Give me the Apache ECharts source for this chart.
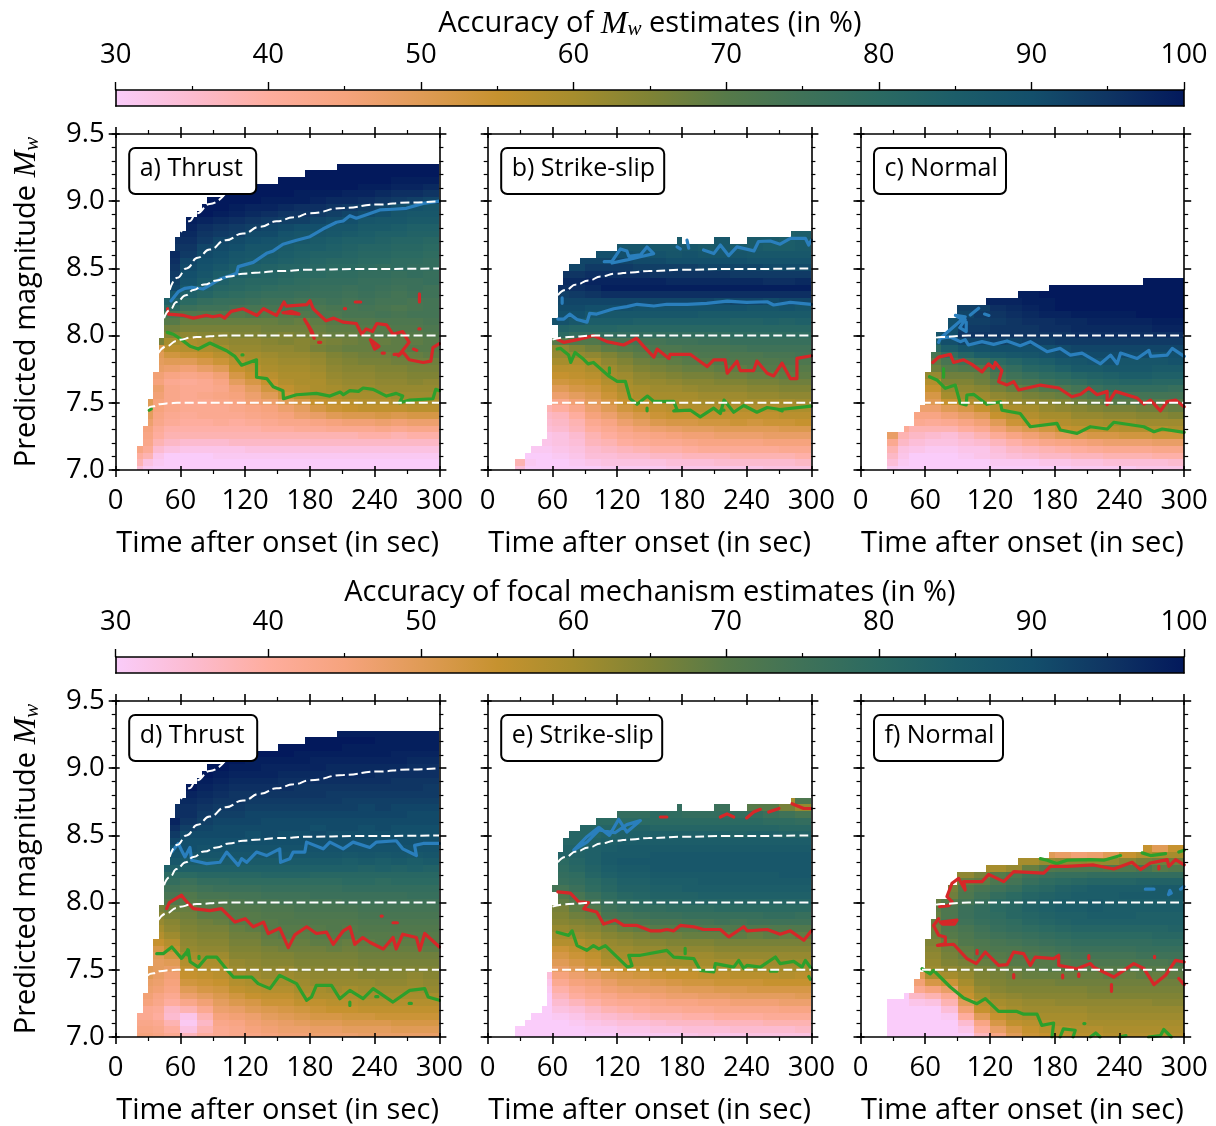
<!DOCTYPE html>
<html><head><meta charset="utf-8">
<style>html,body{margin:0;padding:0;background:#fff}#c{width:1216px;height:1126px}</style>
<script src="https://cdn.jsdelivr.net/npm/echarts@6/dist/echarts.min.js"></script>
</head><body><div id="c"></div>
<script>
// ---- shared bins and labels
const timeEdges=[20,25,35,45,60,75,90,105,120,135,150,165,180,195,210,225,240,255,270,285,300];
const rowBase=6.98, rowStep=0.05;
const panelLabels=['a) Thrust','b) Strike-slip','c) Normal','d) Thrust','e) Strike-slip','f) Normal'];
const xTitle='Time after onset (in sec)';
const yTitle='Predicted magnitude {i|M}{s|w}';
const barTitles=['Accuracy of {i|M}{s|w} estimates (in %)','Accuracy of focal mechanism estimates (in %)'];
const accuracyStops=[[30,'#FACCFA'],[35,'#FCBBD0'],[40,'#FEAD9E'],[45,'#F6A37D'],[50,'#E09B56'],[55,'#C6922F'],[60,'#A68D2D'],[65,'#7F8335'],[70,'#567A49'],[75,'#3F7258'],[80,'#2B6A62'],[85,'#1C5D69'],[90,'#134F6B'],[95,'#0F3563'],[100,'#03195C']];

// ---- first time with data in each row, top row first (same order as the tables below)
const rowStartThrust=[205,175,150,130,100,85,80,75,65,65,60,55,55,50,50,50,50,50,50,50,45,45,45,45,45,45,40,40,40,40,40,35,35,35,35,30,30,30,30,25,25,25,20,20,20,20];
const rowStartStrike=[281,175,120,100,86,75,70,70,65,65,65,65,65,60,65,65,60,60,60,60,60,60,60,60,60,60,55,55,55,55,55,50,40,35,25,25];
const rowStartNormal=[262,175,146,116,89,89,81,81,70,70,70,65,65,65,60,60,60,60,60,55,50,50,40,25,25,25,25,25,25];

// ---- accuracy tables: rows top to bottom (lowest row centred on Mw 7.005), each row aligned to the last time bin; 0 = no data
const gridA=[
[100,100,100,100,100,100],
[100,100,100,100,100,100,100,100],
[100,100,100,100,100,100,100,99,99,99],
[100,100,100,100,100,100,100,99,99,98,98,97],
[100,100,100,100,100,99,99,99,98,98,97,96,96,95],
[100,100,100,100,99,99,99,98,97,97,96,95,94,93,92],
[100,100,99,98,98,97,96,96,95,94,93,92,90,89,88],
[100,100,99,98,97,96,95,95,94,93,92,91,90,88,87,87],
[99,98,97,96,95,94,93,93,92,91,90,88,87,87,86,86],
[98,96,95,94,93,92,91,90,90,88,88,86,86,85,84,84],
[97,95,94,93,91,91,89,88,88,87,86,85,84,84,83,83],
[96,94,92,91,90,89,88,87,86,85,84,84,83,82,82,81],
[95,92,91,90,88,88,86,85,85,84,83,82,82,81,81,80],
[97,94,91,90,88,87,86,85,84,83,83,82,81,81,80,80,79],
[96,92,90,89,87,86,85,84,83,82,81,81,80,80,79,79,78],
[95,91,89,87,85,84,83,82,82,81,80,80,79,78,79,78,78],
[94,90,88,85,84,83,82,81,80,80,79,79,78,78,77,78,77],
[93,89,86,84,82,81,81,80,79,78,78,78,77,77,76,76,77],
[92,87,84,82,81,80,79,78,78,77,77,76,77,76,75,76,75],
[88,84,82,80,79,78,77,77,76,76,76,75,76,75,74,75,75],
[84,80,78,77,77,76,75,75,74,74,75,74,75,74,74,73,74],
[80,76,75,75,74,73,73,73,73,72,73,73,74,73,72,73,74],
[73,71,71,71,70,71,70,70,71,72,72,73,73,74,73,74,74],
[70,68,68,68,68,68,68,69,68,69,70,71,71,72,72,72,73],
[67,66,66,66,66,66,67,67,67,68,69,69,70,70,71,71,72],
[64,63,64,64,65,65,66,65,66,67,68,68,69,70,70,70,71],
[66,60,59,60,62,63,63,64,65,64,65,66,67,68,68,69,69,70],
[52,57,58,59,60,62,62,63,63,64,66,67,68,68,69,69,70,70],
[50,53,54,55,57,59,60,61,62,62,63,65,66,67,67,68,68,69],
[49,50,50,52,54,57,59,60,61,61,62,64,65,66,66,67,67,67],
[48,47,46,48,50,55,57,59,60,60,61,63,64,64,65,65,66,66],
[46,44,43,44,46,52,55,57,59,59,60,62,63,63,64,64,65,65],
[45,42,41,42,44,49,52,55,58,59,59,61,62,62,63,63,64,63],
[47,43,42,42,43,46,49,53,56,58,59,60,61,61,62,62,62,62],
[46,43,42,43,44,45,47,50,54,57,59,59,60,60,60,61,61,61],
[50,45,43,42,42,43,44,46,47,50,52,55,56,57,58,58,59,59,59],
[50,45,43,42,42,42,43,44,45,47,49,52,54,55,56,56,56,57,57],
[49,44,42,41,42,42,42,43,44,45,47,48,50,51,51,52,51,52,52],
[47,43,41,40,40,41,40,41,42,43,43,44,45,46,46,47,46,47,47],
[45,41,39,39,39,39,39,39,40,40,41,41,42,42,42,43,42,43,43],
[44,40,38,38,38,38,38,38,38,38,38,38,38,38,39,39,38,39,39],
[52,43,38,36,35,35,35,36,36,36,36,36,36,36,36,36,36,36,36,36],
[44,41,35,33,32,32,32,32,33,33,33,33,33,33,33,33,33,33,33,33],
[40,38,32,30,30,30,31,31,31,31,31,31,31,31,31,31,31,31,31,31],
[38,33,31,30,30,30,30,30,30,30,30,30,30,30,30,30,30,30,30,30],
[34,31,30,30,30,30,30,30,30,30,30,30,30,30,30,30,30,30,30,30]];

const gridB=[
[84,85],
[86,0,0,87,0,86,86,85,86],
[88,88,87,87,87,86,87,86,86,85,85,86],
[90,90,89,89,88,89,88,88,88,87,87,87,87],
[92,92,92,91,91,90,90,90,90,90,89,89,89,89],
[92,94,94,94,93,93,93,93,92,92,92,92,91,91,91],
[95,96,96,96,96,95,95,95,95,95,94,94,94,94,94],
[97,98,98,98,98,98,97,97,97,97,97,97,96,96,97],
[96,97,99,99,99,99,99,99,99,99,99,99,99,99,99],
[93,94,95,96,96,96,96,96,96,96,96,96,96,96,96,96],
[92,92,92,92,92,92,92,92,92,92,91,92,92,91,92,92],
[91,91,90,90,90,89,89,89,89,89,89,89,88,88,89,88],
[90,90,88,87,87,87,87,87,87,86,86,86,86,86,86,86],
[89,87,85,85,85,84,84,84,84,84,84,83,83,84,83,84],
[83,82,82,82,81,81,81,81,81,81,81,81,81,81,81,81],
[80,78,78,78,78,78,78,78,78,78,78,79,79,79,79,79],
[70,71,71,73,73,74,74,75,75,76,76,77,77,77,77,77],
[63,65,67,69,70,71,72,72,73,73,73,74,75,75,75,75],
[62,62,63,65,67,69,70,70,71,72,72,72,72,73,73,74],
[60,59,60,63,65,67,68,69,70,70,71,71,71,71,72,72],
[57,57,59,61,63,65,66,67,68,68,69,69,70,70,70,70],
[55,56,57,60,61,63,64,65,66,66,67,67,68,68,69,69],
[53,54,55,58,60,62,62,63,64,64,65,65,66,66,67,67],
[50,52,53,56,59,60,61,61,62,63,63,63,64,64,65,65],
[47,49,51,54,57,59,60,60,60,61,61,61,62,62,63,63],
[43,46,49,52,55,57,58,59,59,60,60,60,60,60,60,61],
[38,40,43,47,50,53,55,56,57,58,58,58,58,58,58,59,59],
[36,37,40,45,47,50,52,54,55,55,56,56,56,56,56,57,57],
[35,36,38,42,44,47,49,51,52,52,53,53,54,53,54,54,55],
[34,35,37,40,42,44,46,47,48,49,49,50,50,50,50,51,51],
[32,33,35,38,40,42,43,44,45,46,46,47,47,47,48,48,48],
[32,33,34,37,38,40,41,42,42,43,44,44,44,44,45,45,45],
[31,31,32,33,35,36,37,38,39,39,40,41,41,41,41,41,42,42],
[30,30,31,32,34,34,35,35,36,36,37,37,37,38,38,38,38,39],
[38,31,30,30,31,32,33,33,33,33,34,34,34,35,35,35,35,35,36],
[34,30,30,30,30,30,31,31,31,31,32,32,32,32,32,32,33,33,33]];

const gridC=[
[100,100,100],
[100,100,100,100,100,100,100,100,100],
[99,100,100,100,100,100,100,100,100,100],
[98,98,99,99,100,100,100,100,100,100,100,100],
[93,93,96,97,98,99,100,100,100,100,100,100,100,100],
[92,92,94,95,96,97,98,98,99,99,99,99,100,100,100],
[90,93,93,94,95,96,96,97,97,98,98,98,98,99,99],
[90,94,94,95,95,95,96,96,97,97,97,97,97,98,98],
[88,90,95,95,95,95,95,95,95,96,96,96,96,96,96,96],
[85,90,92,92,93,92,93,93,94,94,94,94,94,94,94,94],
[80,85,88,89,90,90,90,90,91,92,92,92,92,92,92,92],
[73,78,82,85,86,87,88,89,90,90,91,91,91,91,90,90],
[69,73,75,77,80,82,84,85,87,88,89,90,88,88,88,89],
[67,70,71,71,76,78,81,82,84,86,86,87,87,87,86,86],
[62,67,67,68,72,75,77,79,80,82,83,84,85,85,84,84],
[58,65,65,67,69,72,73,75,77,78,80,81,82,82,81,81],
[55,62,63,64,66,68,69,71,72,74,76,78,78,78,78,77],
[52,60,61,61,63,64,66,67,68,70,72,73,74,74,74,74],
[48,50,55,58,60,60,62,63,64,65,67,68,70,70,71,70,70],
[47,47,50,52,55,58,59,60,62,63,64,65,66,66,67,67,68],
[44,44,46,48,50,55,57,58,60,60,62,62,63,63,64,64,65],
[42,41,42,44,46,50,54,55,57,58,59,59,60,60,61,61,61],
[41,38,38,38,40,42,46,49,51,53,55,56,56,57,58,58,58,59],
[48,38,36,35,34,36,38,41,44,46,48,50,51,52,52,53,53,54,54],
[42,36,34,33,33,34,35,37,39,41,43,44,45,46,47,47,47,48,48],
[38,33,32,31,31,32,32,34,36,37,38,39,40,41,42,42,42,43,43],
[36,32,30,30,30,31,32,33,34,35,36,36,37,37,38,38,38,39,39],
[34,31,30,30,30,30,30,31,31,31,32,32,33,33,34,34,34,34,35],
[31,30,30,30,30,30,30,30,30,30,30,30,31,31,31,31,32,32,32]];

const gridD=[
[99,99,99,99,99,99],
[100,100,100,100,99,99,99,99],
[100,100,100,100,99,99,99,99,99,99],
[100,100,100,99,99,99,99,99,99,98,98,98],
[100,100,99,99,99,99,98,98,98,98,98,98,97,97],
[100,100,99,99,98,98,98,98,97,97,97,97,97,96,96],
[100,99,98,98,98,97,97,97,97,97,97,96,96,96,96],
[100,99,98,97,97,97,96,96,96,96,96,96,96,95,95,95],
[100,98,97,96,96,96,96,95,95,95,95,95,95,95,95,94],
[98,97,96,95,95,95,95,95,95,94,94,94,94,94,94,94],
[97,96,95,95,94,94,94,94,94,94,93,93,93,93,93,93],
[96,95,94,94,93,93,93,93,93,93,93,92,93,92,92,92],
[96,94,93,93,92,92,92,92,92,92,92,92,92,92,91,91],
[98,95,93,92,92,92,91,91,91,91,91,91,91,91,91,91,91],
[96,93,92,91,91,91,91,91,91,90,91,91,90,91,90,90,90],
[94,91,91,91,91,90,91,90,90,91,90,90,90,90,90,90,90],
[92,90,90,90,90,90,90,90,90,90,90,90,90,90,90,90,90],
[90,90,89,89,89,89,89,89,89,89,89,89,89,89,89,89,89],
[89,88,88,88,88,88,88,88,88,88,88,87,88,87,88,87,88],
[87,86,86,86,86,86,86,86,86,86,86,85,86,85,86,85,86],
[84,84,84,84,84,84,84,84,84,84,84,84,83,84,83,84,83],
[80,80,81,81,81,81,82,82,82,81,81,81,81,81,81,81,81],
[78,76,78,78,79,79,79,79,79,79,79,80,80,79,80,80,80],
[75,74,75,76,76,76,77,77,77,77,77,78,78,78,78,78,78],
[73,71,73,73,74,74,75,75,75,76,76,76,76,76,76,77,77],
[71,70,71,71,72,73,73,74,74,74,74,75,75,75,75,75,75],
[66,68,68,70,70,71,71,72,72,73,73,73,73,74,74,74,74,74],
[64,66,67,69,69,70,70,71,71,72,72,72,72,73,73,73,73,73],
[62,64,66,67,68,70,70,70,71,71,71,71,71,72,72,72,72,72],
[60,63,65,66,66,68,69,70,70,70,70,71,70,71,71,71,71,71],
[58,61,64,65,65,67,67,69,70,69,70,70,70,70,70,70,70,70],
[55,58,63,64,64,66,66,68,68,68,69,69,68,69,70,69,69,70],
[52,56,62,63,63,65,65,66,67,67,67,68,67,68,68,68,68,69],
[50,53,60,61,61,64,64,65,65,66,66,66,66,67,67,67,67,67],
[49,50,58,59,59,62,63,64,64,65,65,65,65,66,66,66,66,66],
[50,49,48,56,58,58,61,62,63,62,64,64,64,64,65,65,65,65,65],
[50,48,46,55,56,57,60,61,62,61,62,63,63,63,64,64,64,63,64],
[48,47,45,53,54,55,58,59,60,60,61,62,62,62,62,63,63,62,63],
[47,46,44,50,52,53,56,57,58,58,60,60,61,60,61,61,61,61,62],
[46,44,42,47,49,51,53,55,56,56,58,59,59,59,60,60,60,60,60],
[45,43,40,43,46,49,51,52,54,54,56,56,57,57,58,58,58,58,58],
[43,42,41,36,38,42,47,48,50,51,52,53,54,55,55,56,56,56,56,56],
[42,42,40,35,32,38,45,46,47,49,50,51,52,52,53,53,54,54,54,54],
[43,43,42,38,31,36,43,44,46,47,48,49,50,50,51,51,51,52,52,52],
[44,44,43,40,33,38,42,43,45,46,47,47,48,48,49,49,49,50,50,50],
[45,45,44,42,37,40,42,43,44,45,46,46,47,47,47,48,48,48,48,48]];

const gridE=[
[60,72],
[78,0,0,76,0,70,70,66,62],
[78,78,80,79,78,78,78,78,78,76,75,73],
[80,80,80,80,80,80,80,80,80,80,79,79,78],
[82,82,82,83,82,82,82,82,82,82,82,82,81,81],
[82,82,83,84,84,84,84,84,84,84,83,84,84,83,83],
[82,83,84,85,85,85,85,85,85,85,85,85,85,85,85],
[83,84,85,86,86,86,86,86,86,86,86,86,86,86,86],
[83,84,86,86,86,87,87,87,87,87,87,87,87,87,87],
[80,82,84,86,87,87,87,87,87,87,87,87,87,87,87,87],
[79,81,83,85,86,86,87,87,87,87,87,87,87,87,87,87],
[78,79,82,84,85,85,86,86,86,86,86,86,86,86,87,87],
[77,78,80,82,84,84,85,85,85,86,86,86,86,86,86,86],
[74,76,79,81,83,83,84,84,85,85,85,85,85,85,85,85],
[71,73,76,79,81,82,83,83,83,84,84,84,84,84,84,84],
[69,71,74,77,79,80,81,81,82,82,82,82,82,82,82,82],
[66,69,71,75,77,78,78,79,79,79,80,80,80,80,80,80],
[65,67,68,73,74,75,76,76,77,77,77,77,77,78,78,77],
[64,65,66,70,72,72,73,73,74,74,75,74,75,75,75,75],
[62,63,64,66,68,69,70,70,70,71,71,71,71,71,71,71],
[60,61,62,64,65,66,67,67,68,68,68,69,68,69,68,69],
[58,58,60,62,63,64,64,65,65,65,66,66,66,66,66,66],
[54,56,58,61,61,62,62,63,63,63,64,64,64,64,64,64],
[52,54,56,60,60,60,61,61,61,61,62,62,62,62,62,62],
[50,52,54,58,58,59,59,60,60,60,60,60,60,61,61,61],
[48,50,52,54,55,56,57,57,58,58,59,59,60,60,60,60],
[34,45,47,49,51,52,53,54,55,55,56,56,57,57,57,58,57],
[32,42,45,46,48,50,50,51,52,53,53,54,54,54,55,55,55],
[31,39,42,44,46,47,48,48,49,50,50,51,51,52,52,52,52],
[30,37,40,42,43,45,45,46,47,47,48,48,49,49,49,49,50],
[30,35,37,39,41,42,42,43,44,44,45,45,46,46,46,47,47],
[30,33,34,36,38,39,40,41,41,42,42,43,43,43,43,44,44],
[30,30,31,32,34,35,36,37,38,38,39,39,40,40,40,41,41,41],
[30,30,30,31,32,33,34,34,35,36,36,36,37,37,37,38,38,38],
[30,30,30,30,30,31,31,32,32,33,33,34,34,34,35,35,35,35,36],
[30,30,30,30,30,30,30,31,31,31,31,32,33,32,32,33,33,33,33]];

const gridF=[
[55,50,55],
[50,48,46,47,50,55,58,60,60],
[60,62,63,63,62,62,64,66,67,67],
[60,62,68,71,72,72,72,71,71,73,70,71],
[63,66,70,72,75,76,77,77,78,78,78,78,78,78],
[64,68,69,72,74,77,79,80,81,82,82,82,83,83,83],
[66,71,73,75,77,80,81,83,84,85,85,85,85,86,86],
[67,72,75,78,80,82,83,84,85,85,85,86,86,86,86],
[68,70,74,77,80,81,83,84,85,85,86,85,85,85,85,85],
[69,72,76,78,80,81,83,84,85,85,86,85,85,85,85,85],
[68,72,76,78,79,81,82,83,84,84,85,85,85,84,84,84],
[68,73,75,77,78,79,81,82,83,84,84,84,84,84,84,84],
[67,71,73,75,77,78,79,80,81,82,82,82,82,82,82,83],
[67,70,72,74,75,76,77,78,79,80,80,80,80,80,81,81],
[65,68,71,72,73,74,75,76,77,78,78,78,78,78,79,79],
[64,67,69,71,72,72,73,74,75,76,76,76,76,77,77,77],
[63,66,68,70,70,71,71,72,73,74,74,74,74,75,75,75],
[62,65,66,68,69,70,70,70,71,72,72,72,72,72,72,73],
[58,61,63,64,66,67,68,69,70,70,70,70,70,70,70,70,70],
[50,59,60,62,65,66,67,68,68,68,68,68,69,68,69,68,69],
[46,52,54,60,64,65,66,66,66,67,67,67,67,67,67,67,67],
[42,45,48,57,62,64,65,65,65,65,65,66,66,66,66,66,66],
[30,36,38,42,55,60,62,63,64,64,64,64,65,65,65,65,65,65],
[30,30,32,33,38,50,57,60,61,62,62,63,63,63,63,63,63,64,64],
[30,30,30,30,34,46,55,58,60,61,61,61,61,62,62,62,62,62,62],
[30,30,30,30,31,40,50,55,58,59,60,60,60,61,61,61,61,61,61],
[30,30,30,30,30,35,44,52,56,57,58,59,59,60,60,60,60,60,60],
[30,30,30,30,30,32,40,48,52,55,57,57,58,58,59,59,59,59,59],
[30,30,30,30,30,30,37,44,50,54,55,56,57,57,58,58,58,58,58]];

// ---- dashed reference curves [t, Mw]
const curve95=[[60.5,8.77],[68,8.85],[75,8.91],[87.3,8.98],[101,9.05]];
const curve90=[[50,8.34],[57,8.43],[65.7,8.5],[76,8.58],[87,8.64],[102,8.71],[118,8.76],[134,8.81],[149,8.85],[165,8.88],[180,8.91],[211,8.95],[242,8.975],[272,8.99],[300,9.0]];
const curve85=[[44.8,8.13],[50,8.19],[56.5,8.25],[65,8.3],[72,8.34],[82,8.38],[93.5,8.41],[105,8.44],[118,8.46],[133,8.47],[149,8.48],[180,8.49],[220,8.495],[300,8.5]];
const curve80=[[39.5,7.87],[47,7.92],[56.5,7.96],[60,7.97],[70,7.985],[75,7.99],[100,8.0],[300,8.0]];
const curve75=[[28.7,7.455],[35,7.475],[41,7.49],[50,7.497],[57,7.5],[300,7.5]];

// ---- contours, each a list of polylines [t, Mw]
const blueA=[[[51.2,8.257],[58,8.327],[64.2,8.352],[70.4,8.359],[81.2,8.347],[87.3,8.376],[96.6,8.421],[105.9,8.446],[112,8.463],[113.6,8.513],[127.5,8.545],[139.8,8.612],[146,8.63],[155,8.68],[167.6,8.71],[180,8.736],[192,8.793],[204.6,8.843],[210.8,8.853],[217,8.892],[223,8.873],[232.4,8.9],[244.8,8.935],[257,8.94],[269.4,8.947],[285,8.984],[300,9.0]]];
const redA=[[[48,8.2],[49,8.16],[50,8.15],[63,8.15],[72,8.13],[84,8.15],[90,8.14],[97,8.15],[101,8.13],[107,8.18],[118,8.2],[131,8.15],[137,8.2],[149,8.15],[156,8.25],[158,8.22],[177,8.23],[180,8.26],[183,8.2],[195,8.11],[202,8.13],[211,8.1],[223,8.09],[228,8.01],[232,8.05],[238,8.03],[242,8.09],[251,8.08],[257,8.01],[266,8.03],[272,7.95],[262,7.85],[266,7.88],[272,7.82],[285,7.8],[292,7.81],[294,7.91],[300,7.94]],
[[155,8.17],[163,8.18],[170,8.16],[155,8.17]],[[175,8.12],[179,8.07],[182,8.03],[184,7.98],[178,8.08],[175,8.12]],[[222,8.25],[227,8.25]],[[281.5,8.31],[281.5,8.25]],[[188,7.95],[190,7.95]],[[236,7.97],[244,7.92],[240,7.9],[236,7.97]],[[247,7.87],[249,7.87]],[[258,7.86],[262,7.86]],[[276,7.9],[279,7.89]],[[212,8.2],[213,8.2]],[[281,8.05],[282,8.05]]];
const greenA=[[[47.8,8.024],[53.4,8.01],[61,7.97],[69,7.92],[76.5,7.9],[87.3,7.945],[102.8,7.887],[110.5,7.845],[116.7,7.78],[130.5,7.82],[130.5,7.69],[140,7.68],[146,7.62],[155,7.59],[155.5,7.53],[167.6,7.56],[186,7.57],[198.5,7.55],[208,7.58],[211,7.56],[217,7.59],[225,7.585],[229.3,7.61],[238.6,7.6],[251,7.55],[260,7.57],[266,7.55],[263,7.5],[272.5,7.52],[294,7.53],[296.6,7.6],[300,7.59]],
[[107.4,7.95],[107.9,7.95]],[[112,7.905],[112.5,7.905]],[[117,7.856],[118,7.856]],[[142.3,7.61],[142.8,7.61]],[[27,7.35],[27.5,7.35]],[[31,7.445],[33,7.455]]];

const blueB=[[[65,8.123],[70.6,8.123],[76,8.16],[82.8,8.12],[92,8.1],[94.5,8.165],[101,8.16],[116.8,8.2],[129,8.216],[138.4,8.233],[154,8.22],[166,8.233],[185,8.233],[203,8.24],[222,8.257],[240,8.247],[259,8.252],[265,8.228],[280.5,8.247],[300,8.233]],
[[108,8.55],[115,8.55],[123,8.645],[129,8.63],[130.7,8.59],[141.5,8.6],[147.6,8.66],[153.8,8.61],[141.5,8.587],[129,8.563],[115.2,8.54]],[[175.5,8.66],[178.5,8.645]],[[184.7,8.71],[186.3,8.65]],
[[200,8.637],[209.5,8.61],[215.6,8.674],[223.4,8.595],[231,8.66],[246.7,8.63],[251,8.7],[262,8.704],[271,8.68],[280.5,8.724],[294.4,8.724],[297.5,8.674],[300,8.71]],[[69,8.28],[69,8.24]]];
const redB=[[[64.9,7.97],[70.4,7.95],[83,7.97],[98,8.0],[110.6,7.955],[126,7.93],[138,7.98],[144.6,7.92],[154,7.84],[157,7.9],[168,7.83],[169,7.86],[188,7.86],[203.3,7.77],[209.5,7.82],[220,7.82],[222,7.72],[231,7.81],[234,7.74],[246.5,7.74],[249.5,7.81],[259,7.72],[265,7.7],[272.8,7.795],[280.5,7.68],[286.6,7.68],[286.6,7.83],[300,7.85]],[[292,7.66],[292.6,7.66]],[[272.8,7.65],[273.3,7.65]]];
const greenB=[[[64.3,7.9],[67.3,7.905],[75,7.855],[77,7.8],[81,7.875],[88,7.83],[93,7.79],[98,7.8],[112,7.7],[120,7.66],[127.6,7.66],[132,7.53],[138.4,7.49],[148,7.55],[154,7.51],[172.4,7.51],[175.5,7.45],[172.4,7.44],[188,7.445],[197,7.395],[209.5,7.46],[215.6,7.42],[219,7.52],[228,7.43],[237.3,7.48],[249.5,7.43],[259,7.465],[271,7.45],[300,7.475]],[[112.8,7.76],[112.8,7.72]],[[147.7,7.46],[147.7,7.44]],[[197,7.55],[197.5,7.55]],[[237,7.4],[237.5,7.4]],[[216,7.445],[219,7.445]],[[269,7.45],[273,7.44]]];

const blueC=[[[72.4,7.95],[74,7.98],[83.2,7.99],[92.5,7.955],[97,7.97],[100,7.93],[112.6,7.955],[123.4,7.935],[135.8,7.96],[148,7.925],[157.4,7.955],[172.9,7.88],[185,7.905],[194.5,7.855],[205.3,7.87],[222.4,7.79],[231.7,7.855],[237.9,7.79],[241,7.87],[256.4,7.83],[267.3,7.89],[269,7.845],[284.2,7.855],[288.9,7.905],[300,7.845]],
[[74,7.98],[97,8.14],[88,8.15],[98,8.1],[98,8.03],[92,8.06],[97,8.12]],[[101.8,8.153],[109.5,8.203]],[[115,8.16],[119,8.15]],[[132,8.203],[132.5,8.203]],[[142,7.905],[142.5,7.905]],[[267,7.9],[267.5,7.9]]];
const redC=[[[67,7.8],[72.4,7.84],[83.2,7.86],[86.3,7.8],[95.6,7.82],[103.3,7.786],[112.6,7.73],[118.8,7.79],[123.4,7.757],[125,7.8],[131,7.74],[128,7.657],[135.8,7.633],[142,7.657],[146.6,7.595],[166.7,7.632],[183.7,7.61],[196,7.545],[204,7.563],[211.6,7.61],[219.3,7.56],[228.6,7.585],[228.6,7.486],[236.3,7.585],[256.4,7.535],[262.6,7.49],[268.8,7.52],[278,7.44],[284.2,7.51],[292,7.52],[300,7.47]]];
const greenC=[[[64,7.694],[70.8,7.67],[78.6,7.608],[87.8,7.632],[92.5,7.496],[98,7.484],[98.6,7.558],[104.8,7.563],[117,7.489],[129.6,7.508],[131,7.446],[148,7.42],[157.4,7.322],[182,7.347],[185.2,7.298],[200.7,7.273],[213,7.322],[228.6,7.305],[234.7,7.355],[262.6,7.322],[272,7.285],[279.6,7.305],[300,7.28]],[[77,7.755],[77,7.69]]];

const blueD=[[[51.9,8.376],[58,8.44],[61,8.39],[64.2,8.34],[68.8,8.41],[70.4,8.315],[84.3,8.29],[96.6,8.3],[102.8,8.376],[113.6,8.277],[116.7,8.327],[121.3,8.3],[130.5,8.376],[139.8,8.35],[152,8.4],[152.8,8.3],[161.4,8.327],[164.5,8.376],[175.3,8.376],[176.9,8.45],[192.3,8.4],[198.5,8.45],[210.8,8.4],[220,8.45],[235.5,8.41],[241.7,8.45],[260,8.46],[266,8.4],[278.7,8.35],[277,8.426],[285,8.44],[300,8.44]]];
const redD=[[[47.2,7.955],[49.7,8.0],[61,8.055],[64.2,8.02],[72,7.955],[87.3,7.94],[98,7.955],[110.6,7.855],[120,7.88],[127.5,7.82],[137,7.855],[141.4,7.77],[152,7.81],[160,7.665],[166,7.76],[177,7.82],[186,7.77],[195.4,7.78],[201.6,7.69],[211,7.79],[217,7.82],[221.6,7.69],[229,7.74],[235.5,7.705],[248,7.655],[257,7.74],[260,7.655],[266,7.765],[278.7,7.74],[281.8,7.645],[286.4,7.77],[300,7.67]],
[[76.5,8.01],[77,8.01]],[[246,7.9],[247,7.9]],[[257,7.85],[261,7.85]],[[231.8,7.805],[232.3,7.805]],[[292.6,7.855],[293,7.855]],[[152,7.75],[152.4,7.75]]];
const greenD=[[[38,7.62],[44,7.62],[52,7.67],[61,7.585],[67.3,7.648],[69,7.56],[76.5,7.52],[84.3,7.595],[93.5,7.595],[101,7.52],[109,7.446],[126,7.446],[132,7.397],[143,7.36],[152,7.459],[167.6,7.397],[177,7.273],[181.5,7.298],[186,7.384],[200,7.384],[207.7,7.285],[217,7.347],[229.3,7.285],[238.6,7.36],[257,7.26],[272.5,7.347],[286.4,7.36],[289.5,7.298],[300,7.273]],
[[42.6,7.8],[43,7.8]],[[40.4,7.695],[41,7.695]],[[66.7,7.65],[66.7,7.61]],[[77.2,7.6],[77.2,7.585]],[[192,7.305],[192.5,7.305]],[[217,7.26],[217,7.235]],[[222.5,7.3],[223,7.3]],[[241,7.3],[243,7.3]],[[272,7.25],[274,7.25]]];

const blueE=[[[79.7,8.39],[92,8.49],[103,8.56],[112.8,8.5],[121.4,8.62],[129,8.525],[141.5,8.61],[129,8.58],[118,8.52],[103,8.54],[92,8.45],[79.7,8.39]],[[267.5,8.396],[268,8.396]]];
const redE=[[[65,8.08],[76.6,8.07],[84.3,8.005],[93.5,8.0],[89,7.955],[101,7.93],[107.5,7.84],[118.3,7.87],[126,7.83],[138.4,7.83],[150.7,7.79],[160,7.79],[166,7.8],[172.4,7.79],[178.5,7.83],[191,7.82],[200,7.8],[215.6,7.8],[223.4,7.745],[237.3,7.82],[240.3,7.79],[259,7.8],[271,7.765],[280.5,7.79],[293,7.72],[300,7.79]],
[[160,8.637],[166,8.637]],[[187,8.687],[187.5,8.687]],[[215.6,8.637],[221.8,8.66],[228,8.637]],[[240,8.63],[246.5,8.674],[252.7,8.694]],[[260.4,8.674],[270,8.7]],[[282,8.736],[293,8.7],[300,8.7]],[[288,7.8],[288.5,7.8]],[[72,8.02],[72.4,8.02]],[[68,7.9],[68.4,7.9]]];
const greenE=[[[64.3,7.78],[75,7.756],[78.2,7.79],[82.8,7.68],[92,7.645],[98,7.68],[103,7.656],[109,7.68],[120,7.595],[129.6,7.52],[133.8,7.53],[130.7,7.608],[141.5,7.608],[166,7.645],[172.4,7.595],[191,7.583],[197,7.496],[209.5,7.484],[211,7.546],[228,7.52],[232.6,7.57],[237.3,7.51],[240.3,7.533],[252.7,7.52],[266.6,7.595],[271,7.546],[283.6,7.563],[291.3,7.52],[294.4,7.57],[300,7.508]],[[183,7.66],[183,7.62]],[[297.5,7.45],[299,7.43]],[[262,7.49],[268,7.49]],[[213,7.446],[213.5,7.446]]];

const blueF=[[[264,8.1],[272,8.1]],[[285.5,8.06],[288,8.07],[286.7,8.09],[285.5,8.06]],[[296.6,8.1],[299.7,8.12]],[[202.3,8.1],[202.8,8.1]],[[222.4,8.05],[222.9,8.05]]];
const redF=[[[73.3,7.97],[81.7,7.977],[84.8,8.007],[80.1,8.045],[84.8,8.144],[91,8.18],[97,8.094],[95.6,8.156],[112.6,8.156],[118.8,8.21],[132.7,8.156],[142,8.23],[169.8,8.22],[176,8.27],[191.5,8.27],[216,8.28],[234.7,8.25],[251.7,8.3],[259.5,8.245],[268.8,8.295],[284.2,8.32],[285.8,8.27],[292,8.32],[300,8.28]],
[[72.4,7.88],[67.7,7.83],[72.4,7.757],[78.6,7.744],[78.6,7.694],[71.4,7.682],[86.3,7.69],[98.6,7.583],[107.3,7.546],[115.7,7.632],[128,7.533],[135.8,7.538],[142,7.632],[151.2,7.62],[157.4,7.533],[162,7.595],[179,7.583],[183.7,7.608],[183.7,7.533],[200.7,7.508],[213,7.546],[216,7.52],[234.7,7.446],[253.3,7.546],[262.6,7.51],[272,7.39],[282.7,7.459],[292,7.57],[300,7.558]],
[[74,7.855],[89.4,7.87],[87,7.84],[76,7.84],[74,7.855]],[[87.8,8.1],[88.2,8.1]],[[108,7.645],[108,7.62]],[[142,7.465],[142,7.44]],[[187.4,7.46],[187.4,7.44]],[[202.3,7.47],[202.3,7.45]],[[211.6,7.605],[211.6,7.585]],[[232.6,7.39],[232.6,7.34]],[[252.7,7.305],[253.2,7.305]],[[272.5,7.6],[272.5,7.59]],[[295,7.435],[300,7.39]],[[276.5,8.27],[276.5,8.25]],[[92.5,7.8],[93,7.8]]];
const greenF=[[[57,7.508],[64.6,7.47],[67.7,7.496],[83.2,7.372],[95.6,7.29],[107.9,7.248],[115.7,7.285],[128,7.19],[145,7.19],[151.2,7.17],[163.6,7.17],[168,7.087],[179,7.104],[177.5,7.0]],
[[185,7.0],[188,7.06],[199,7.05],[197,7.0]],[[213,7.0],[218,7.03],[222,7.0]],[[240,7.0],[246,7.01]],[[267,7.0],[278,7.01],[281,7.056],[288,7.0]],
[[166.7,8.327],[173,8.315],[182,8.29],[191.5,8.315],[213,8.32],[225.5,8.315],[241,8.35]],[[261,8.37],[268.8,8.35],[282.7,8.365]],[[295,8.376],[300,8.39]],[[132,7.3],[132.5,7.3]],[[147.5,7.25],[148,7.25]],[[207,7.1],[208,7.1]],[[242.5,7.05],[243,7.05]]];

// ---- layout
const colX=[115.7,487.7,860.5], panelW=323.7, rowY=[134,701], barY=[90,657];
const MAIN='"Open Sans"', MATH='"Liberation Serif"', INK='#000';
const hex=c=>[1,3,5].map(i=>parseInt(c.substr(i,2),16));
function colorOf(v){
  v=Math.max(30,Math.min(100,v));
  for(let i=1;i<accuracyStops.length;i++){
    const [a,ca]=accuracyStops[i-1],[b,cb]=accuracyStops[i];
    if(v<=b){const f=(v-a)/(b-a),A=hex(ca),B=hex(cb);return 'rgb('+A.map((x,k)=>Math.round(x+(B[k]-x)*f)).join(',')+')';}
  }
}
const rich={i:{fontFamily:MATH,fontStyle:'italic',fontSize:32,color:INK},s:{fontFamily:MATH,fontStyle:'italic',fontSize:21,color:INK,verticalAlign:'bottom',padding:[10,0,0,0]}};
const grids=[],xAxes=[],yAxes=[],series=[],graphic=[];
const thin={color:INK,width:1.6};

function addPanel(px,py,opts){
  const g=grids.length;
  grids.push({left:px,top:py,width:panelW,height:336});
  grids.push({left:px,top:py,width:panelW,height:336});
  const xb={type:'value',min:0,max:300,interval:60,z:5};
  const yb={type:'value',min:7,max:9.5,interval:0.5,z:5};
  const bx=xAxes.length, by=yAxes.length;
  const outX={axisTick:{show:true,inside:false,length:7,lineStyle:thin},minorTick:{show:true,splitNumber:2,length:4,lineStyle:{color:INK,width:1.2}},splitLine:{show:false},minorSplitLine:{show:false},axisLine:{onZero:false,lineStyle:thin}};
  const outY={axisTick:{show:true,inside:false,length:7,lineStyle:thin},minorTick:{show:true,splitNumber:5,length:4,lineStyle:{color:INK,width:1.2}},splitLine:{show:false},minorSplitLine:{show:false},axisLine:{onZero:false,lineStyle:thin}};
  xAxes.push({...xb,...outX,gridIndex:g,position:'bottom',
    axisLabel:{show:true,fontFamily:MAIN,fontSize:27.5,color:INK,margin:17},
    name:xTitle,nameLocation:'middle',nameGap:59,nameTextStyle:{fontFamily:MAIN,fontSize:29,color:INK}});
  xAxes.push({...xb,...outX,gridIndex:g,position:'top',axisLabel:{show:false}});
  const yl={...yb,...outY,gridIndex:g,position:'left',
    axisLabel:{show:opts.first,fontFamily:MAIN,fontSize:27.5,color:INK,margin:11,formatter:v=>v.toFixed(1)}};
  if(opts.first){yl.name=yTitle;yl.nameLocation='middle';yl.nameGap=73;yl.nameTextStyle={fontFamily:MAIN,fontSize:29,color:INK,rich};}
  yAxes.push(yl);
  yAxes.push({...yb,...outY,gridIndex:g,position:'right',axisLabel:{show:false}});
  // inward half of the major ticks
  const inner={axisTick:{show:true,inside:true,length:4,lineStyle:thin},axisLabel:{show:false},axisLine:{show:false},splitLine:{show:false}};
  xAxes.push({...xb,...inner,gridIndex:g+1,position:'bottom',z:6});
  xAxes.push({...xb,...inner,gridIndex:g+1,position:'top',z:6});
  yAxes.push({...yb,...inner,gridIndex:g+1,position:'left',z:6});
  yAxes.push({...yb,...inner,gridIndex:g+1,position:'right',z:6});

  // heat cells
  const cells=[];
  opts.grid.forEach((row,r)=>{
    const rowIndex=opts.grid.length-1-r;
    const start=opts.starts[r];
    let first=true;
    row.forEach((v,j)=>{
      if(!v) return;
      const col=20-row.length+j;
      let t0=timeEdges[col];
      const t1=timeEdges[col+1];
      if(start>=t1) return;
      if(first) t0=start;
      first=false;
      cells.push([t0,t1,rowBase+rowIndex*rowStep,rowBase+(rowIndex+1)*rowStep,v]);
    });
  });
  series.push({type:'custom',xAxisIndex:bx,yAxisIndex:by,clip:true,z:2,silent:true,
    encode:{x:[0,1],y:[2,3]},data:cells,
    renderItem(params,api){
      const a=api.coord([api.value(0),api.value(2)]),b=api.coord([api.value(1),api.value(3)]);
      const x0=Math.round(a[0]),x1=Math.round(b[0]),y0=Math.round(a[1]),y1=Math.round(b[1]);
      return {type:'rect',shape:{x:x0,y:y1,width:x1-x0,height:y0-y1},style:{fill:colorOf(api.value(4)),stroke:null}};
    }});
  const lines=(segs,color)=>{
    const data=[];
    segs.forEach((s,k)=>{if(k)data.push([NaN,NaN]);s.forEach(p=>data.push(p));});
    series.push({type:'line',xAxisIndex:bx,yAxisIndex:by,data,symbol:'none',connectNulls:false,z:3,silent:true,
      lineStyle:{color,width:3.2,cap:'round',join:'round'}});
  };
  if(opts.green) lines(opts.green,'#2ca02c');
  if(opts.red) lines(opts.red,'#d62728');
  if(opts.blue) lines(opts.blue,'#2a7fbd');
  opts.dash.forEach(([curve,start])=>{
    series.push({type:'line',xAxisIndex:bx,yAxisIndex:by,data:curve.filter(p=>p[0]>=start),symbol:'none',smooth:0.5,smoothMonotone:'x',z:4,silent:true,
      lineStyle:{color:'#fff',width:2,type:[9,4]}});
  });
  // label box
  graphic.push({type:'rect',left:px+12.5,top:py+13,z:50,shape:{width:opts.boxW,height:46,r:6},style:{fill:'#fff',stroke:'#000',lineWidth:2}});
  graphic.push({type:'text',left:px+24,top:py+22,z:51,style:{text:opts.label,fontFamily:MAIN,fontSize:25,fill:INK}});
}

function addBar(y,title){
  const g=grids.length;
  grids.push({left:colX[0],top:y,width:1184-colX[0],height:16});
  const bx=xAxes.length,by=yAxes.length;
  xAxes.push({type:'value',min:30,max:100,interval:10,gridIndex:g,position:'top',z:5,
    axisLine:{onZero:false,lineStyle:thin},axisTick:{show:true,inside:false,length:8,lineStyle:{color:INK,width:1.4}},
    minorTick:{show:true,splitNumber:2,length:4,lineStyle:{color:INK,width:1.2}},splitLine:{show:false},minorSplitLine:{show:false},
    axisLabel:{fontFamily:MAIN,fontSize:27.5,color:INK,margin:21},
    name:title,nameLocation:'middle',nameGap:49,nameTextStyle:{fontFamily:MAIN,fontSize:29,color:INK,rich}});
  xAxes.push({type:'value',min:30,max:100,gridIndex:g,position:'bottom',z:5,axisLine:{onZero:false,lineStyle:thin},axisTick:{show:false},axisLabel:{show:false},splitLine:{show:false}});
  ['left','right'].forEach(pos=>yAxes.push({type:'value',min:0,max:1,gridIndex:g,position:pos,z:5,axisLine:{onZero:false,lineStyle:thin},axisTick:{show:false},axisLabel:{show:false},splitLine:{show:false}}));
  series.push({type:'custom',xAxisIndex:bx,yAxisIndex:by,clip:true,z:2,silent:true,encode:{x:0,y:1},data:[[30,0,100,1]],
    renderItem(params,api){
      const a=api.coord([api.value(0),api.value(1)]),b=api.coord([api.value(2),api.value(3)]);
      return {type:'rect',shape:{x:a[0],y:b[1],width:b[0]-a[0],height:a[1]-b[1]},style:{fill:new echarts.graphic.LinearGradient(0,0,1,0,accuracyStops.map(([v,c])=>({offset:(v-30)/70,color:c})))}};
    }});
}

addBar(barY[0],barTitles[0]);
addBar(barY[1],barTitles[1]);
const tall=[[curve95,0],[curve90,0],[curve85,0],[curve80,0],[curve75,0]];
addPanel(colX[0],rowY[0],{grid:gridA,starts:rowStartThrust,blue:blueA,red:redA,green:greenA,dash:tall,first:true,label:panelLabels[0],boxW:127});
addPanel(colX[1],rowY[0],{grid:gridB,starts:rowStartStrike,blue:blueB,red:redB,green:greenB,dash:[[curve85,65],[curve80,60],[curve75,57]],label:panelLabels[1],boxW:163});
addPanel(colX[2],rowY[0],{grid:gridC,starts:rowStartNormal,blue:blueC,red:redC,green:greenC,dash:[[curve80,70],[curve75,57]],label:panelLabels[2],boxW:132});
addPanel(colX[0],rowY[1],{grid:gridD,starts:rowStartThrust,blue:blueD,red:redD,green:greenD,dash:tall,first:true,label:panelLabels[3],boxW:128});
addPanel(colX[1],rowY[1],{grid:gridE,starts:rowStartStrike,blue:blueE,red:redE,green:greenE,dash:[[curve85,65],[curve80,60],[curve75,57]],label:panelLabels[4],boxW:161});
addPanel(colX[2],rowY[1],{grid:gridF,starts:rowStartNormal,blue:blueF,red:redF,green:greenF,dash:[[curve80,70],[curve75,57]],label:panelLabels[5],boxW:129});

const chart=echarts.init(document.getElementById('c'),null,{renderer:'canvas'});
chart.setOption({animation:false,backgroundColor:'#fff',grid:grids,xAxis:xAxes,yAxis:yAxes,series,graphic});
</script></body></html>
